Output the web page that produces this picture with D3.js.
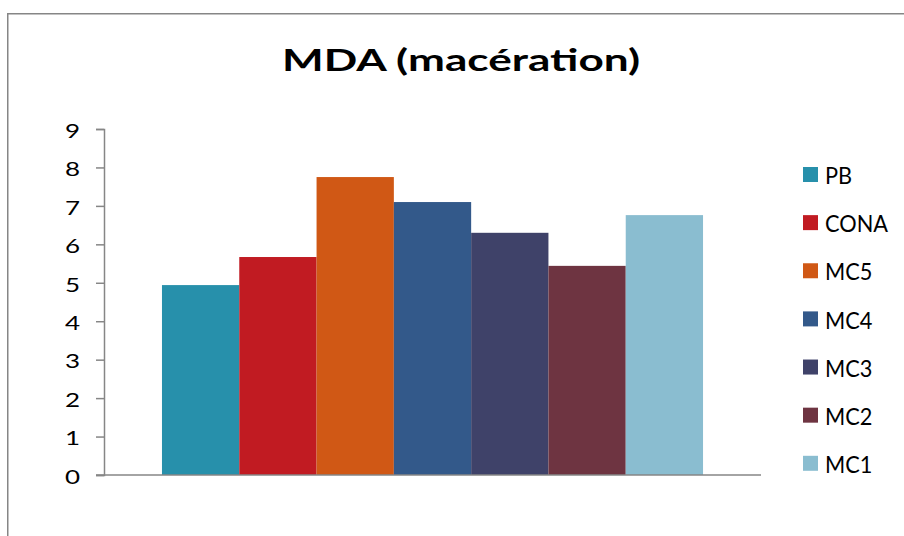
<!DOCTYPE html>
<html>
<head>
<meta charset="utf-8">
<script src="https://cdn.jsdelivr.net/npm/d3@7"></script>
<style>
  html, body { margin: 0; padding: 0; background: #fff; }
  svg { display: block; }
  text { font-family: Lato, "Open Sans", sans-serif; fill: #000; }
</style>
</head>
<body>
<svg id="chart" width="904" height="536"></svg>
<script>
// Series and values
const series = ["PB", "CONA", "MC5", "MC4", "MC3", "MC2", "MC1"];
const values = [4.94, 5.67, 7.75, 7.10, 6.30, 5.44, 6.76];
const colors = ["#2790ab", "#c11b22", "#d05815", "#33598a", "#3f4269", "#6e3441", "#8abdd0"];
const yTicks = [0, 1, 2, 3, 4, 5, 6, 7, 8, 9];
const title = "MDA (macération)";

const svg = d3.select("#chart");
const W = 904, H = 536;
const axisColor = "#868686";

// chart frame (runs past the right and bottom edges)
svg.append("rect")
  .attr("x", 7.75).attr("y", 13.75)
  .attr("width", W + 20).attr("height", H + 20)
  .attr("fill", "#fff")
  .attr("stroke", axisColor).attr("stroke-width", 1.5);

const plot = { left: 104, right: 761, top: 129, bottom: 475 };

const x = d3.scaleBand()
  .domain(series)
  .range([plot.left, plot.right])
  .paddingInner(0)
  .paddingOuter(0.75);

const y = d3.scaleLinear()
  .domain([0, 9])
  .range([plot.bottom, plot.top]);

// bars
svg.append("g").selectAll("rect")
  .data(series)
  .join("rect")
  .attr("x", d => x(d))
  .attr("width", x.bandwidth())
  .attr("y", (d, i) => y(values[i]))
  .attr("height", (d, i) => y(0) - y(values[i]))
  .attr("fill", (d, i) => colors[i]);

// y axis
const yAxis = svg.append("g")
  .attr("transform", `translate(${plot.left},0)`)
  .call(d3.axisLeft(y).tickValues(yTicks).tickSize(8).tickPadding(0).tickFormat(d3.format("d")));
yAxis.select(".domain").attr("stroke", axisColor).attr("stroke-width", 1.5);
yAxis.selectAll(".tick line").attr("stroke", axisColor).attr("stroke-width", 1.5);
yAxis.selectAll(".tick text")
  .attr("x", null).attr("dy", null)
  .attr("text-anchor", "end")
  .attr("dominant-baseline", "central")
  .attr("font-size", 20)
  .attr("transform", "translate(-24,0.5) scale(1.3,1)");

// x axis baseline
svg.append("line")
  .attr("x1", plot.left - 8).attr("x2", plot.right)
  .attr("y1", y(0)).attr("y2", y(0))
  .attr("stroke", axisColor).attr("stroke-width", 1.5);

// title, widened to span 358px
const t = svg.append("text")
  .attr("text-anchor", "middle")
  .attr("font-weight", "bold")
  .attr("font-size", 30)
  .text(title);
const tsx = 358 / t.node().getComputedTextLength();
t.attr("transform", `translate(461,71) scale(${tsx},1)`);

// legend
const legendY = d3.scalePoint().domain(series).range([174.5, 463.3]);
const lg = svg.append("g").selectAll("g")
  .data(series)
  .join("g")
  .attr("transform", d => `translate(803,${legendY(d)})`);
lg.append("rect")
  .attr("x", 0).attr("y", -7.5)
  .attr("width", 15).attr("height", 15)
  .attr("fill", (d, i) => colors[i]);
const lt = lg.append("text")
  .attr("dominant-baseline", "central")
  .attr("font-size", 22.5)
  .text(d => d);
// "CONA" label sets the legend's horizontal scale (63px wide)
const lsx = 63 / lt.filter(d => d === "CONA").node().getComputedTextLength();
lt.attr("transform", `translate(22,1) scale(${lsx},1)`);
</script>
</body>
</html>
